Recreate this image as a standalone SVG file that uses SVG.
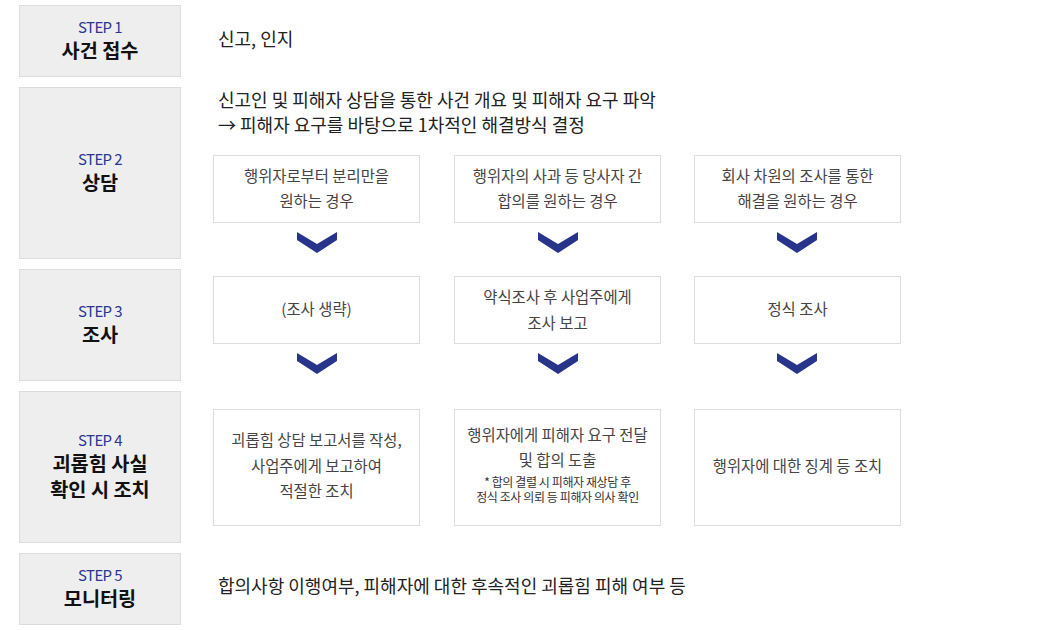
<svg xmlns="http://www.w3.org/2000/svg" width="1037" height="630" viewBox="0 0 1037 630">
<style>
text{font-family:"Noto Sans CJK KR","Noto Sans",sans-serif;}
.step{fill:#eeeeee;stroke:#dcdcdc;stroke-width:1}
.box{fill:#ffffff;stroke:#dddddd;stroke-width:1}
.sl{font-size:15px;fill:#2b3590;text-anchor:middle;letter-spacing:-0.6px}
.st{font-size:19.7px;font-weight:bold;fill:#111;text-anchor:middle}
.rt{font-size:18px;fill:#222}
.bt{font-size:15.4px;fill:#444;text-anchor:middle}
.sm{font-size:12px;fill:#333;text-anchor:middle;letter-spacing:-0.4px}
.chev{fill:#28348a}
</style>
<rect width="1037" height="630" fill="#ffffff"/>
<g id="step1">
<rect class="step" x="19.5" y="5.5" width="161" height="71"/>
<text class="sl" x="100" y="33">STEP 1</text>
<text class="st" x="100" y="58">사건 접수</text>
<text class="rt" x="218" y="46">신고, 인지</text>
</g>
<g id="step2">
<rect class="step" x="19.5" y="87.5" width="161" height="171"/>
<text class="sl" x="100" y="165">STEP 2</text>
<text class="st" x="100" y="190">상담</text>
<text class="rt" x="218" y="107">신고인 및 피해자 상담을 통한 사건 개요 및 피해자 요구 파악</text>
<text class="rt" x="218" y="132">→ 피해자 요구를 바탕으로 1차적인 해결방식 결정</text>
</g>
<g id="step3">
<rect class="step" x="19.5" y="269.5" width="161" height="111"/>
<text class="sl" x="100" y="317">STEP 3</text>
<text class="st" x="100" y="342">조사</text>
</g>
<g id="step4">
<rect class="step" x="19.5" y="391.5" width="161" height="151"/>
<text class="sl" x="100" y="446">STEP 4</text>
<text class="st" x="100" y="471">괴롭힘 사실</text>
<text class="st" x="100" y="497">확인 시 조치</text>
</g>
<g id="step5">
<rect class="step" x="19.5" y="553.5" width="161" height="71"/>
<text class="sl" x="100" y="581">STEP 5</text>
<text class="st" x="100" y="606">모니터링</text>
<text class="rt" x="218" y="593">합의사항 이행여부, 피해자에 대한 후속적인 괴롭힘 피해 여부 등</text>
</g>
<g id="box-1-1">
<rect class="box" x="213.5" y="155.5" width="206" height="67"/>
<text class="bt" x="316.5" y="182">행위자로부터 분리만을</text>
<text class="bt" x="316.5" y="207">원하는 경우</text>
</g>
<g id="box-1-2">
<rect class="box" x="454.5" y="155.5" width="206" height="67"/>
<text class="bt" x="557.5" y="182">행위자의 사과 등 당사자 간</text>
<text class="bt" x="557.5" y="207">합의를 원하는 경우</text>
</g>
<g id="box-1-3">
<rect class="box" x="694.5" y="155.5" width="206" height="67"/>
<text class="bt" x="797.5" y="182">회사 차원의 조사를 통한</text>
<text class="bt" x="797.5" y="207">해결을 원하는 경우</text>
</g>
<g id="box-2-1">
<rect class="box" x="213.5" y="276.5" width="206" height="67"/>
<text class="bt" x="316.5" y="315">(조사 생략)</text>
</g>
<g id="box-2-2">
<rect class="box" x="454.5" y="276.5" width="206" height="67"/>
<text class="bt" x="557.5" y="303">약식조사 후 사업주에게</text>
<text class="bt" x="557.5" y="329">조사 보고</text>
</g>
<g id="box-2-3">
<rect class="box" x="694.5" y="276.5" width="206" height="67"/>
<text class="bt" x="797.5" y="315">정식 조사</text>
</g>
<g id="box-3-1">
<rect class="box" x="213.5" y="409.5" width="206" height="116"/>
<text class="bt" x="316.5" y="446">괴롭힘 상담 보고서를 작성,</text>
<text class="bt" x="316.5" y="472">사업주에게 보고하여</text>
<text class="bt" x="316.5" y="497">적절한 조치</text>
</g>
<g id="box-3-2">
<rect class="box" x="454.5" y="409.5" width="206" height="116"/>
<text class="bt" x="557.5" y="441">행위자에게 피해자 요구 전달</text>
<text class="bt" x="557.5" y="466">및 합의 도출</text>
<text class="sm" x="557.5" y="487">* 합의 결렬 시 피해자 재상담 후</text>
<text class="sm" x="557.5" y="502">정식 조사 의뢰 등 피해자 의사 확인</text>
</g>
<g id="box-3-3">
<rect class="box" x="694.5" y="409.5" width="206" height="116"/>
<text class="bt" x="797.5" y="472">행위자에 대한 징계 등 조치</text>
</g>
<g id="connectors">
<polygon class="chev" points="297,232 317,244 337,232 337,240 317,253 297,240"/>
<polygon class="chev" points="538,232 558,244 578,232 578,240 558,253 538,240"/>
<polygon class="chev" points="777,232 797,244 817,232 817,240 797,253 777,240"/>
<polygon class="chev" points="297,353 317,365 337,353 337,361 317,374 297,361"/>
<polygon class="chev" points="538,353 558,365 578,353 578,361 558,374 538,361"/>
<polygon class="chev" points="777,353 797,365 817,353 817,361 797,374 777,361"/>
</g>
</svg>
